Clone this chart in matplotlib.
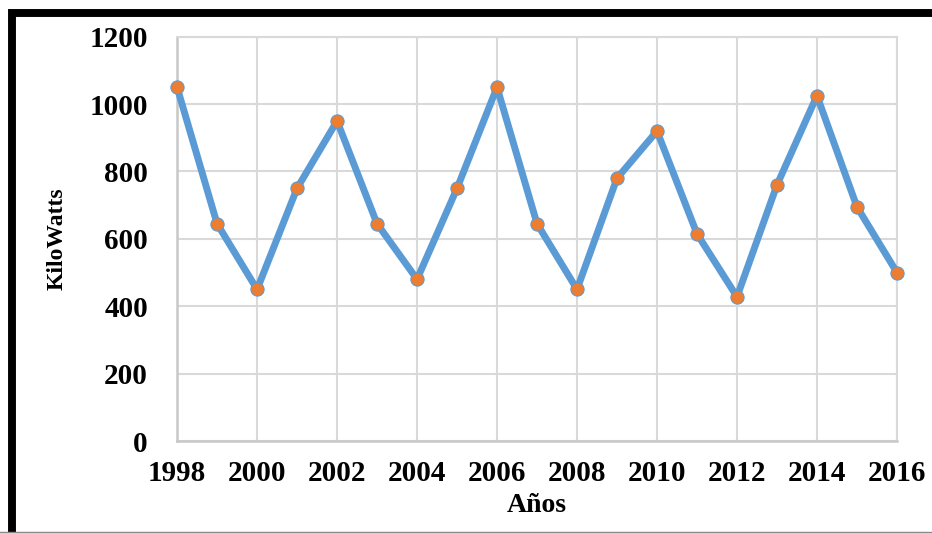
import matplotlib
matplotlib.use("Agg")
import matplotlib.pyplot as plt
from matplotlib.lines import Line2D

years = list(range(1998, 2017))
kilowatts = [1050, 645, 450, 750, 950, 645, 480, 750, 1050, 645,
             450, 780, 920, 615, 428, 760, 1025, 695, 500]
x_ticks = list(range(1998, 2017, 2))
y_ticks = list(range(0, 1201, 200))

plt.rcParams['font.family'] = ['Liberation Serif', 'DejaVu Serif']
plt.rcParams['font.weight'] = 'bold'

fig = plt.figure(figsize=(9.32, 5.33), dpi=100)
ax = fig.add_axes([0.190, 0.1726, 0.7724, 0.7585])

ax.plot(years, kilowatts, color='#5B9BD5', linewidth=5, marker='o',
        markersize=9.5, markerfacecolor='#ED7D31', markeredgecolor='#5B9BD5',
        markeredgewidth=0.8, zorder=3, clip_on=False)

ax.set_xlim(1998, 2016)
ax.set_ylim(0, 1200)
ax.set_xticks(x_ticks)
ax.set_yticks(y_ticks)
ax.grid(True, color='#D9D9D9', linewidth=1.5)
ax.tick_params(length=0, labelsize=21)
ax.tick_params(axis='y', pad=21)
ax.tick_params(axis='x', pad=14)
for lab in ax.get_xticklabels() + ax.get_yticklabels():
    lab.set_fontweight('bold')

for side in ['top', 'right']:
    ax.spines[side].set_color('#D9D9D9')
    ax.spines[side].set_linewidth(1.5)
for side in ['left', 'bottom']:
    ax.spines[side].set_color('#C8C8C8')
    ax.spines[side].set_linewidth(1.8)

ax.set_xlabel("Años", fontsize=20, fontweight='bold', labelpad=4)
ax.set_ylabel("KiloWatts", fontsize=17, fontweight='bold', labelpad=16)

# outer frame (cropped on the right)
fig.add_artist(Line2D([12 / 932, 12 / 932, 1.0],
                      [1.5 / 533, 1 - 13.3 / 533, 1 - 13.3 / 533],
                      color='black', linewidth=5.7, solid_joinstyle='miter',
                      transform=fig.transFigure))
fig.add_artist(Line2D([0, 1], [1.5 / 533, 1.5 / 533],
                      color='#888888', linewidth=1.0, transform=fig.transFigure))

fig.savefig("out.png", dpi=100)
